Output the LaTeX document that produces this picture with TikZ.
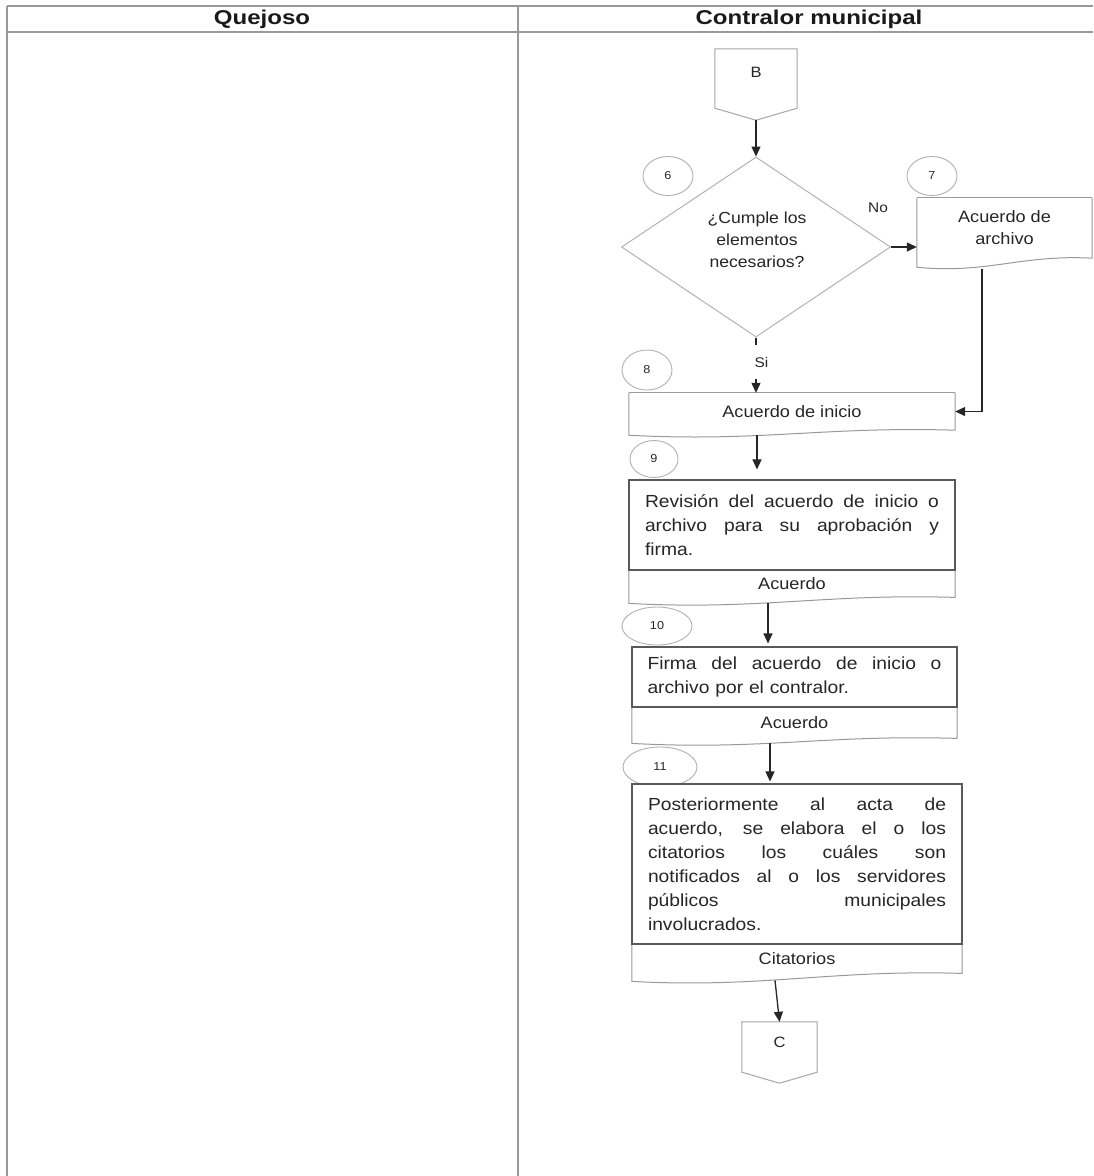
\documentclass[tikz,border=0pt]{standalone}
\usepackage{fontspec}
\setmainfont{Liberation Sans}[FakeStretch=1.1]
\newfontfamily\hdrfont{Liberation Sans}[FakeStretch=1.2]
\usetikzlibrary{arrows.meta,shapes.geometric,calc}
\newcommand{\jl}[2]{\leavevmode\hbox to #1{\spaceskip=0.3em plus 1fil\relax #2}}
% open document outline (no top edge): node, width, drop of left corner
\newcommand{\docout}[3]{%
  \draw[docline] (#1.north west) -- ($(#1.south west)+(0,#3)$)
    .. controls ($(#1.south west)+(0.4*#2,#3+7)$) and ($(#1.south west)+(0.6*#2,-4)$) ..
    (#1.south east) -- (#1.north east);}
\begin{document}
\begin{tikzpicture}[x=1pt,y=-1pt,
  tbl/.style={draw=black!40, line width=1.8pt},
  hdr/.style={font=\hdrfont\bfseries\fontsize{20}{22}\selectfont, text=black!90, inner sep=0},
  conn/.style={draw=black!85, line width=1.3pt},
  arr/.style={conn, -{Triangle[length=10pt,width=9pt]}},
  procbox/.style={draw=black!65, line width=1.1pt, fill=white, inner xsep=0pt, inner ysep=0pt,
    align=left, font=\fontsize{17.5}{24}\selectfont, text=black!85},
  docpart/.style={inner sep=0pt, align=center, font=\fontsize{16.5}{22}\selectfont, text=black!85},
  docline/.style={draw=black!40, line width=1pt},
  numell/.style={ellipse, draw=black!30, line width=0.9pt, inner sep=0pt,
    font=\fontsize{11.5}{13}\selectfont, text=black!85},
  lbl/.style={font=\fontsize{14}{16}\selectfont, text=black!85, inner sep=1pt},
  offpage/.style={inner sep=0pt, font=\fontsize{15}{18}\selectfont, text=black!85},
  offline/.style={draw=black!35, line width=1pt},
  dia/.style={diamond, draw=black!30, line width=1pt, inner sep=0pt},
  diatext/.style={align=center, font=\fontsize{16}{22}\selectfont, text=black!85, inner sep=0pt},
]
\useasboundingbox (0,0) rectangle (1093,1176);
\fill[white] (0,0) rectangle (1093,1176);

% table
\draw[tbl] (7,6) -- (1093,6);
\draw[tbl] (7,32) -- (1093,32);
\draw[tbl] (7,6) -- (7,1176);
\draw[tbl] (518,6) -- (518,1176);
\node[hdr] (h1) at (262,19) {Quejoso};
\node[hdr] (h2) at (809,19) {Contralor municipal};

% connector B
\node[offpage, minimum width=82pt, minimum height=46pt] (B) at (756,72) {B};
\draw[offline] (B.north west) -- ($(B.south west)+(0,13)$) -- ($(B.south)+(0,25)$)
  -- ($(B.south east)+(0,13)$) -- (B.north east) -- cycle;
\coordinate (Bpt) at ($(B.south)+(0,25)$);

% decision
\node[dia, minimum width=269pt, minimum height=180pt] (d) at (756,247) {};
\node[diatext] (dt) at (757,240) {¿Cumple los\\elementos\\necesarios?};

% numbers
\node[numell, minimum width=50pt, minimum height=39pt] (e6) at (668,176) {6};
\node[numell, minimum width=50pt, minimum height=39pt] (e7) at (932,176) {7};
\node[numell, minimum width=50pt, minimum height=40pt] (e8) at (647,370) {8};
\node[numell, minimum width=48pt, minimum height=37pt] (e9) at (654,459) {9};
\node[numell, minimum width=70pt, minimum height=38pt] (e10) at (657,626) {10};
\node[numell, minimum width=74pt, minimum height=40pt] (e11) at (660,767) {11};

% Acuerdo de archivo
\node[docpart, minimum width=175pt, minimum height=60pt] (arch) at (1004.5,228) {Acuerdo de\\archivo};
\docout{arch}{175}{9}
\draw[docline] (arch.north west) -- (arch.north east);

% Acuerdo de inicio
\node[docpart, minimum width=326pt, minimum height=37pt] (acin) at (792,411.5) {Acuerdo de inicio};
\docout{acin}{326}{5}
\draw[docline] (acin.north west) -- (acin.north east);

% step 9
\node[docpart, minimum width=326pt, minimum height=27pt, anchor=north] (p9d) at (792,570) {Acuerdo};
\docout{p9d}{326}{6}
\node[procbox, minimum width=326pt, minimum height=90pt, text width=294pt] (p9) at (792,525)
  {\jl{294pt}{Revisión del acuerdo de inicio o}\\\jl{294pt}{archivo para su aprobación y}\\firma.};

% step 10
\node[docpart, minimum width=325pt, minimum height=31pt, anchor=north] (p10d) at (794.5,707) {Acuerdo};
\docout{p10d}{325}{5}
\node[procbox, minimum width=325pt, minimum height=60pt, text width=294pt] (p10) at (794.5,677)
  {\jl{294pt}{Firma del acuerdo de inicio o}\\archivo por el contralor.};

% step 11
\node[docpart, minimum width=330pt, minimum height=29pt, anchor=north] (p11d) at (797,944) {Citatorios};
\docout{p11d}{330}{8}
\node[procbox, minimum width=330pt, minimum height=160pt, text width=298pt] (p11) at (797,864)
  {\jl{298pt}{Posteriormente al acta de}\\\jl{298pt}{acuerdo, se elabora el o los}\\\jl{298pt}{citatorios los cuáles son}\\\jl{298pt}{notificados al o los servidores}\\\jl{298pt}{públicos municipales}\\involucrados.};

% connector C
\node[offpage, minimum width=75pt, minimum height=40pt] (C) at (779.5,1042) {C};
\draw[offline] (C.north west) -- ($(C.south west)+(0,10)$) -- ($(C.south)+(0,21)$)
  -- ($(C.south east)+(0,10)$) -- (C.north east) -- cycle;

% connectors
\draw[arr] (Bpt) -- (d.north);
\draw[arr] (d.east) -- (d.east -| arch.west);
\node[lbl] (no) at (878,208) {No};
\draw[arr] (d.south) -- node[lbl, pos=0.45, fill=white, anchor=west, xshift=-3pt, minimum height=34pt] (si) {Si} (d.south |- acin.north);
\draw[arr] ($(arch.south)+(-22.5,11)$) |- (acin.east);
\draw[arr, shorten >=10pt] ($(acin.south)+(-35,5)$) -- ($(p9.north)+(-35,0)$);
\draw[arr, shorten >=3pt] ($(p9d.south)+(-24,6)$) -- ($(p10.north)+(-26.5,0)$);
\draw[arr, shorten >=2pt] ($(p10d.south)+(-24.5,5)$) -- ($(p11.north)+(-27,0)$);
\draw[arr] ($(p11d.south)+(-22,7)$) -- (C.north);
\end{tikzpicture}
\end{document}
